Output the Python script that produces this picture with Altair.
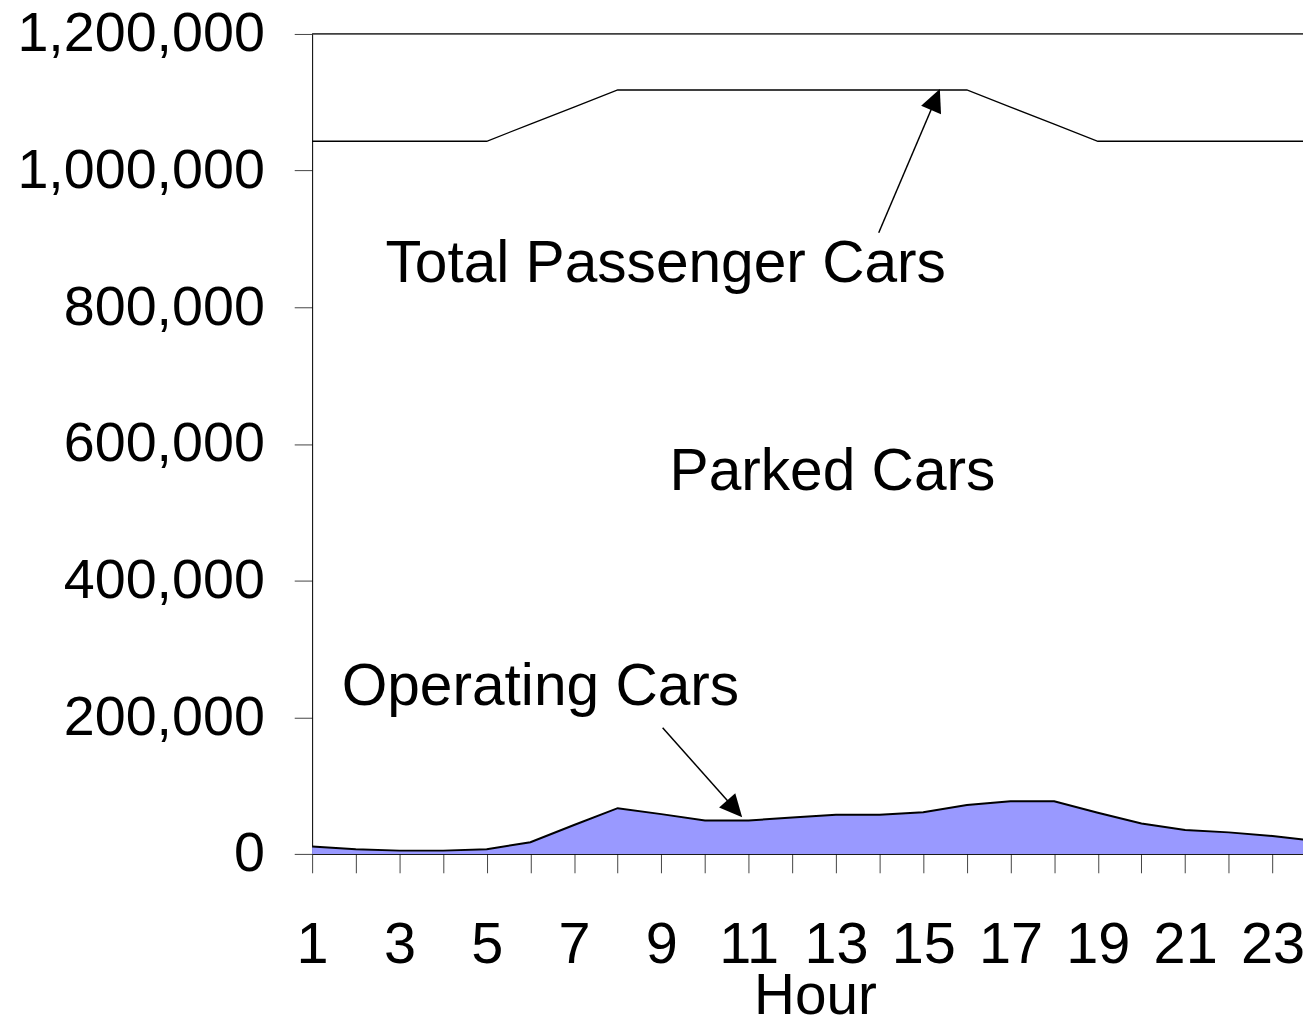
import altair as alt
import pandas as pd

hours = list(range(1, 25))
operating = [11000, 6800, 4800, 4800, 6800, 17000, 42300, 66900, 58200, 49000, 49000, 53300,
             57200, 57200, 61100, 71700, 77100, 77100, 60100, 44600, 34900, 31500, 26200, 19000]
total = [1043000, 1043000, 1043000, 1043000, 1043000, 1068000, 1093000, 1118000, 1118000, 1118000,
         1118000, 1118000, 1118000, 1118000, 1118000, 1118000, 1093000, 1068000, 1043000, 1043000,
         1043000, 1043000, 1043000, 1043000]

label_text = ["Total Passenger Cars", "Parked Cars", "Operating Cars"]
label_hour = [9.10, 12.92, 6.23]
label_value = [862500, 558500, 244400]

arrow_tail_hour = [13.98, 9.03]
arrow_tail_value = [909000, 184700]
arrow_head_hour = [15.28, 10.68]
arrow_head_value = [1104000, 66000]
arrow_angle = [22.7, 138.65]

FONT = "Liberation Sans"
XMAX = 23.7

df = pd.DataFrame({"hour": hours, "operating": operating, "total": total})
labels = pd.DataFrame({"text": label_text, "hour": label_hour, "value": label_value})
arrows = pd.DataFrame({"h1": arrow_tail_hour, "v1": arrow_tail_value,
                       "h2": arrow_head_hour, "v2": arrow_head_value, "angle": arrow_angle})

xscale = alt.Scale(domain=[1, XMAX], nice=False, zero=False)
yscale = alt.Scale(domain=[0, 1200000], nice=False)

xaxis = alt.Axis(values=list(range(1, 24)), labelExpr="datum.value % 2 == 1 ? datum.label : ''",
                 title="Hour", titleFont=FONT, titleFontSize=57, titleFontWeight="normal",
                 titleColor="black", titleX=506, titleY=161, titleAlign="center",
                 titleBaseline="alphabetic", titleAnchor="start",
                 labelFont=FONT, labelFontSize=58, labelColor="black", labelPadding=44,
                 labelOverlap=False, labelFlush=False, labelLimit=400,
                 tickSize=19, tickColor="#444444", tickWidth=1,
                 domainColor="black", domainWidth=1, grid=False)
yaxis = alt.Axis(values=[0, 200000, 400000, 600000, 800000, 1000000, 1200000],
                 labelExpr="format(datum.value, ',')",
                 title=None, labelFont=FONT, labelFontSize=56, labelColor="black",
                 labelPadding=30, tickSize=18, tickColor="#444444", tickWidth=1,
                 domainColor="black", domainWidth=1, grid=False, labelBaseline="middle",
                 labelOverlap=False, labelLimit=400)

base = alt.Chart(df)

area = base.mark_area(color="#9999FF", opacity=1, clip=True).encode(
    x=alt.X("hour:Q", scale=xscale, axis=xaxis),
    y=alt.Y("operating:Q", scale=yscale, axis=yaxis),
)
area_line = base.mark_line(color="black", strokeWidth=2, clip=True).encode(
    x=alt.X("hour:Q", scale=xscale, axis=xaxis), y=alt.Y("operating:Q", scale=yscale, axis=yaxis))
total_line = base.mark_line(color="black", strokeWidth=1.3, clip=True).encode(
    x=alt.X("hour:Q", scale=xscale, axis=xaxis), y=alt.Y("total:Q", scale=yscale, axis=yaxis))

top_rule = alt.Chart(pd.DataFrame({"a": [0]})).mark_rule(color="black", strokeWidth=1.3).encode(
    x=alt.datum(1), x2=alt.datum(XMAX), y=alt.datum(1200000))

texts = alt.Chart(labels).mark_text(font=FONT, fontSize=59, color="black", align="center",
                                    baseline="middle").encode(
    x=alt.X("hour:Q", scale=xscale, axis=xaxis), y=alt.Y("value:Q", scale=yscale, axis=yaxis),
    text="text:N")

arrow_shafts = alt.Chart(arrows).mark_rule(color="black", strokeWidth=1.5).encode(
    x=alt.X("h1:Q", scale=xscale, axis=xaxis), y=alt.Y("v1:Q", scale=yscale, axis=yaxis),
    x2="h2:Q", y2="v2:Q")
arrow_heads = alt.Chart(arrows).mark_point(shape="M0,-1 L0.95,1 L-0.95,1 Z", filled=True,
                                           color="black", opacity=1, size=520).encode(
    x=alt.X("h2:Q", scale=xscale, axis=xaxis), y=alt.Y("v2:Q", scale=yscale, axis=yaxis),
    angle=alt.Angle("angle:Q", scale=None))

chart = alt.layer(area, area_line, total_line, texts, arrow_shafts, arrow_heads, top_rule).properties(
    width=997, height=825,
    autosize=alt.AutoSizeParams(type="none"),
    padding={"left": 306, "top": 23, "right": 0, "bottom": 164},
).configure_view(stroke=None).configure(background="white")

chart.save("out.html", embed_options={"renderer": "svg", "actions": False})
